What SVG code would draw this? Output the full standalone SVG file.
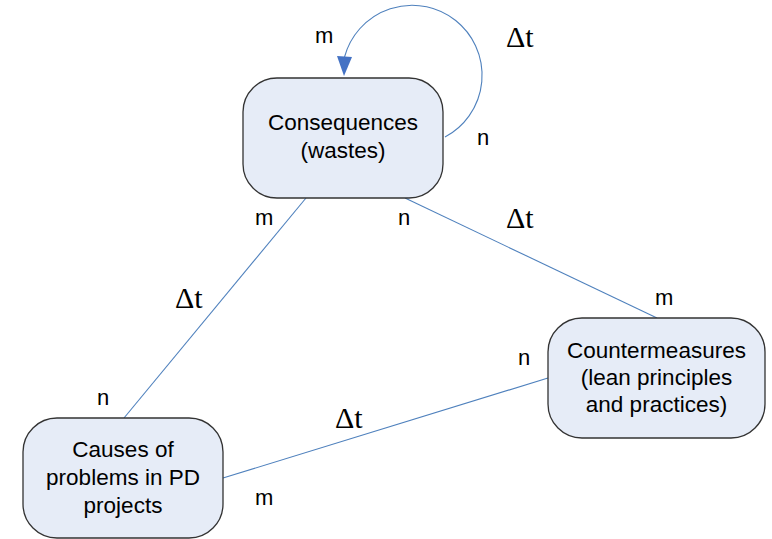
<svg xmlns="http://www.w3.org/2000/svg" width="772" height="539" viewBox="0 0 772 539">
  <style>
    .node rect { fill: #E6ECF7; stroke: #333333; stroke-width: 1.3; }
    .node text { font-family: "Liberation Sans", Arial, sans-serif; font-size: 22.5px; fill: #000; text-anchor: middle; }
    .conn { fill: none; stroke: #4F81BD; stroke-width: 1.1; }
    .card { font-family: "Liberation Sans", Arial, sans-serif; font-size: 22px; fill: #000; }
    .dt { font-family: "Liberation Serif", "Times New Roman", serif; font-size: 30px; fill: #000; }
  </style>

  <rect width="772" height="539" fill="#ffffff"/>

  <!-- connectors -->
  <g id="connectors">
    <line class="conn" x1="306" y1="198" x2="124" y2="418"/>
    <line class="conn" x1="405" y1="198" x2="657" y2="318"/>
    <line class="conn" x1="223" y1="478" x2="548" y2="378"/>
    <!-- self loop on Consequences -->
    <path class="conn" d="M445,137 A70,70 0 1 0 344.5,57"/>
    <polygon points="337,56 352,57 344,76" fill="#4472C4"/>
  </g>

  <!-- nodes -->
  <g id="consequences" class="node">
    <rect x="243" y="78" width="200" height="120" rx="34" ry="34"/>
    <text x="343" y="130">Consequences</text>
    <text x="343" y="158">(wastes)</text>
  </g>
  <g id="causes" class="node">
    <rect x="23" y="418" width="200" height="120" rx="34" ry="34"/>
    <text x="123" y="457">Causes of</text>
    <text x="123" y="485">problems in PD</text>
    <text x="123" y="513">projects</text>
  </g>
  <g id="countermeasures" class="node">
    <rect x="548" y="318" width="217" height="120" rx="34" ry="34"/>
    <text x="656.5" y="358">Countermeasures</text>
    <text x="656.5" y="385">(lean principles</text>
    <text x="656.5" y="412">and practices)</text>
  </g>

  <!-- cardinality and time labels -->
  <g id="labels">
    <text class="card" x="315" y="43">m</text>
    <text class="card" x="477" y="145">n</text>
    <text class="dt" x="506" y="47">Δt</text>

    <text class="card" x="255" y="225">m</text>
    <text class="card" x="398" y="225">n</text>
    <text class="dt" x="506" y="228">Δt</text>
    <text class="card" x="655" y="305">m</text>

    <text class="dt" x="175" y="308">Δt</text>
    <text class="card" x="97" y="405">n</text>

    <text class="card" x="518" y="365">n</text>
    <text class="dt" x="335" y="428">Δt</text>
    <text class="card" x="255" y="505">m</text>
  </g>
</svg>
